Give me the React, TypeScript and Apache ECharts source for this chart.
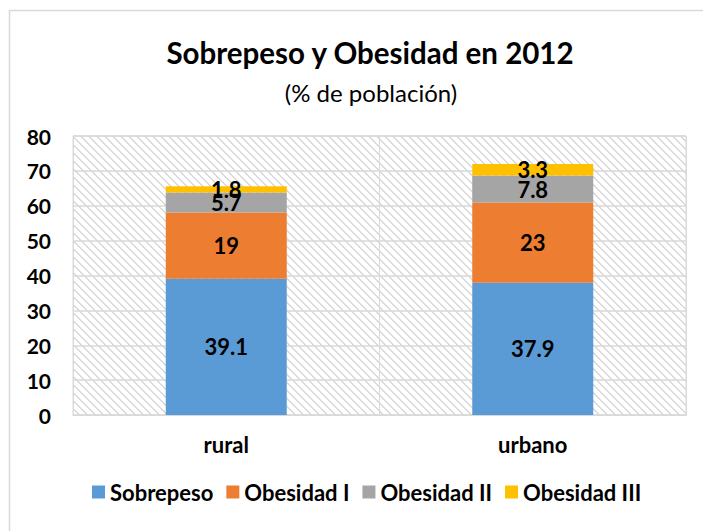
import React, { useEffect, useRef } from "react";
import * as echarts from "echarts";

const categories = ["rural", "urbano"];
const seriesNames = ["Sobrepeso", "Obesidad I", "Obesidad II", "Obesidad III"];
const sobrepeso = [39.1, 37.9];
const obesidadI = [19, 23];
const obesidadII = [5.7, 7.8];
const obesidadIII = [1.8, 3.3];
const colors = ["#5B9BD5", "#ED7D31", "#A5A5A5", "#FFC000"];

const FONT = "Lato";

function makeHatch(): HTMLCanvasElement {
  const c = document.createElement("canvas");
  c.width = 8;
  c.height = 8;
  const ctx = c.getContext("2d")!;
  ctx.fillStyle = "#ffffff";
  ctx.fillRect(0, 0, 8, 8);
  ctx.fillStyle = "#d9d9d9";
  for (let y = 0; y < 8; y++) {
    for (let k = 0; k < 2; k++) {
      ctx.fillRect((y + k) % 8, y, 1, 1);
    }
  }
  return c;
}

export default function App() {
  const ref = useRef<HTMLDivElement>(null);
  useEffect(() => {
    if (!ref.current) return;
    const chart = echarts.init(ref.current, null, { renderer: "svg" });
    const data = [sobrepeso, obesidadI, obesidadII, obesidadIII];
    const hatch = makeHatch();
    chart.setOption({
      animation: false,
      textStyle: { fontFamily: FONT },
      title: [
        {
          text: "Sobrepeso y Obesidad en 2012",
          left: 365,
          top: 32,
          textAlign: "center",
          textStyle: { fontFamily: FONT, fontWeight: "bold", fontSize: 29.5, color: "#000" },
        },
        {
          text: "(% de población)",
          left: 366,
          top: 75,
          textAlign: "center",
          textStyle: { fontFamily: FONT, fontWeight: "normal", fontSize: 24, color: "#000" },
        },
      ],
      graphic: [
        {
          type: "rect",
          shape: { x: 9.5, y: 10.5, width: 800, height: 600 },
          style: { fill: "none", stroke: "#D9D9D9", lineWidth: 1.5 },
          silent: true,
        },
      ],
      legend: {
        data: seriesNames,
        left: 92,
        top: 481,
        padding: 0,
        itemWidth: 13,
        itemHeight: 13,
        itemGap: 13,
        icon: "rect",
        textStyle: { fontFamily: FONT, fontWeight: "bold", fontSize: 22, color: "#000" },
      },
      grid: {
        left: 73,
        right: 17,
        top: 136,
        bottom: 116,
        show: true,
        borderColor: "#D9D9D9",
        borderWidth: 1,
        backgroundColor: { image: hatch, repeat: "repeat" },
      },
      xAxis: {
        type: "category",
        data: categories,
        axisLine: { lineStyle: { color: "#D9D9D9" } },
        axisTick: { show: false },
        splitLine: { show: true, lineStyle: { color: "#D9D9D9", width: 1 } },
        axisLabel: {
          fontFamily: FONT,
          fontWeight: "bold",
          fontSize: 22,
          color: "#000",
          margin: 18,
        },
      },
      yAxis: {
        type: "value",
        min: 0,
        max: 80,
        interval: 10,
        axisLine: { show: false },
        axisTick: { show: false },
        splitLine: { lineStyle: { color: "#D9D9D9", width: 1.5 } },
        axisLabel: {
          fontFamily: FONT,
          fontWeight: "bold",
          fontSize: 21,
          color: "#000",
          margin: 22,
        },
      },
      series: seriesNames.map((name, i) => ({
        name,
        type: "bar",
        stack: "total",
        barWidth: 121,
        data: data[i],
        itemStyle: { color: colors[i] },
        label: {
          show: true,
          position: "inside",
          fontFamily: FONT,
          fontWeight: "bold",
          fontSize: 22,
          color: "#000",
        },
      })),
    });
    return () => chart.dispose();
  }, []);
  return (
    <div
      ref={ref}
      style={{ position: "absolute", left: 0, top: 0, width: 703, height: 531 }}
    />
  );
}
